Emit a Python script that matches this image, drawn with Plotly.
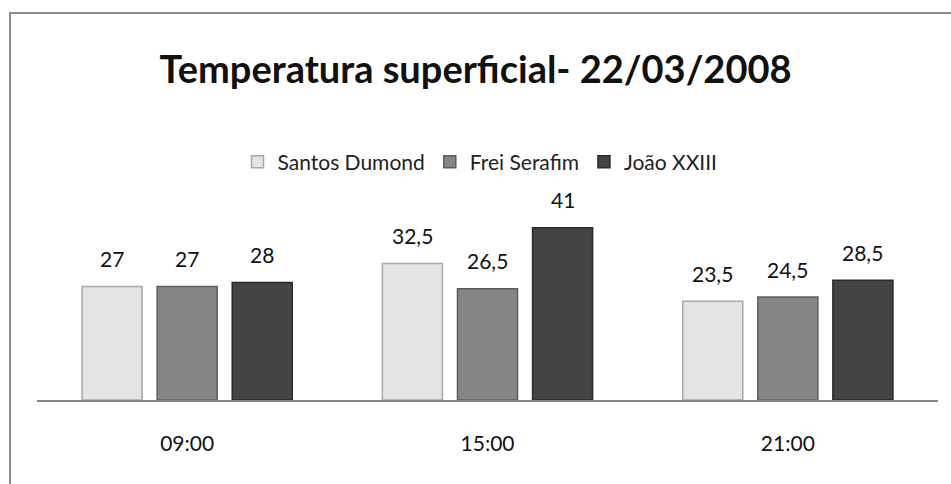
import plotly.graph_objects as go

# Surface temperature readings (°C) on 22/03/2008
horarios = ["09:00", "15:00", "21:00"]
santos_dumond = [27, 32.5, 23.5]
frei_serafim = [27, 26.5, 24.5]
joao_xxiii = [28, 41, 28.5]

series = [
    ("Santos Dumond", santos_dumond, "#e4e4e4", "#a8a8a8"),
    ("Frei Serafim", frei_serafim, "#858585", "#5e5e5e"),
    ("João XXIII", joao_xxiii, "#444444", "#2a2a2a"),
]

W, H = 951, 484
ML, MR, MT, MB = 37, 13, 190, 84
plot_w = W - ML - MR
plot_h = H - MT - MB
FONT = "Lato, sans-serif"


def px_to_paper_x(px):
    return (px - ML) / plot_w


def px_to_paper_y(py):
    return (H - MB - py) / plot_h


fig = go.Figure()
slot = 0.25
annotations = []
for k, (name, vals, fill, edge) in enumerate(series):
    fig.add_trace(go.Bar(
        name=name,
        x=horarios,
        y=vals,
        marker=dict(color=fill, line=dict(color=edge, width=1.5)),
    ))
    for i, v in enumerate(vals):
        annotations.append(dict(
            x=i + (k - 1) * slot, y=v, xref="x", yref="y",
            text=f"{v:g}".replace(".", ","), showarrow=False,
            yanchor="middle", yshift=28,
            font=dict(family=FONT, size=21, color="#111111"),
        ))

fig.update_layout(
    width=W, height=H,
    margin=dict(l=ML, r=MR, t=MT, b=MB),
    paper_bgcolor="white", plot_bgcolor="white",
    barmode="group", bargap=0.25, bargroupgap=0.2,
    separators=", ",
    title=dict(
        text="<b>Temperatura superficial- 22/03/2008</b>",
        x=0.5, xanchor="center", y=1 - 70 / H, yanchor="middle",
        yref="container",
        font=dict(family=FONT, size=38, color="#111111"),
    ),
    legend=dict(
        orientation="h", x=px_to_paper_x(480), xanchor="center",
        y=px_to_paper_y(162), yanchor="middle",
        font=dict(family=FONT, size=21, color="#222222"),
        itemwidth=30, traceorder="normal",
    ),
    xaxis=dict(
        showline=True, linecolor="#868686", linewidth=1.5,
        ticks="", showgrid=False, ticklabelstandoff=24,
        tickfont=dict(family=FONT, size=21, color="#111111"),
    ),
    yaxis=dict(range=[0, 50], visible=False, showgrid=False, zeroline=False),
    annotations=annotations,
    shapes=[dict(
        type="rect", xref="paper", yref="paper",
        x0=px_to_paper_x(10), x1=px_to_paper_x(W + 10),
        y0=px_to_paper_y(H + 10), y1=px_to_paper_y(13),
        line=dict(color="#8c8c8c", width=2), layer="below",
    )],
)

fig.write_html("out.html")
